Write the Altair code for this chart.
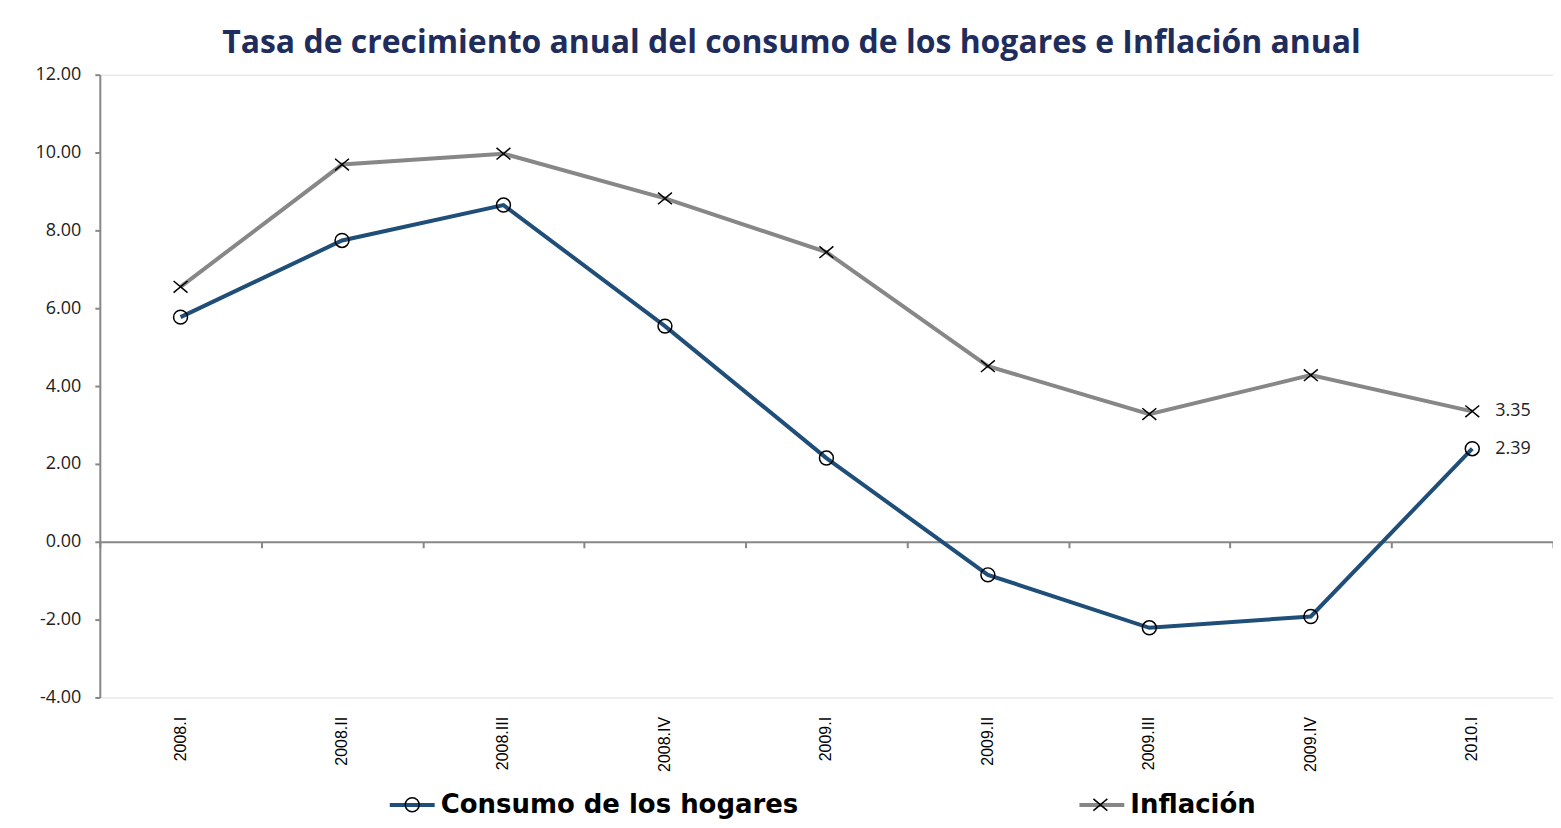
import altair as alt
import pandas as pd

# ---- data ----
periods = ["2008.I", "2008.II", "2008.III", "2008.IV", "2009.I",
           "2009.II", "2009.III", "2009.IV", "2010.I"]
consumo = [5.77, 7.74, 8.65, 5.54, 2.15, -0.85, -2.21, -1.92, 2.39]
inflacion = [6.55, 9.69, 9.97, 8.82, 7.44, 4.51, 3.28, 4.28, 3.35]
series_names = ["Consumo de los hogares", "Inflación"]
marker_names = ["circulo", "cruz"]
series_colors = ["#1F4E79", "#878787"]
y_ticks = [-4, -2, 0, 2, 4, 6, 8, 10, 12]

rows = []
for name, mk, vals in zip(series_names, marker_names, [consumo, inflacion]):
    for p, v in zip(periods, vals):
        rows.append({"period": p, "series": name, "marker": mk, "value": v})
df = pd.DataFrame(rows)

W, H = 1456, 624
y_min, y_max = y_ticks[0], y_ticks[-1]
zero_offset = -H * (0 - y_min) / (y_max - y_min)
axis_gray = "#878787"

# unit-space marker paths (scaled by sqrt(size)/2)
r = 0.31
circle_path = f"M{-r},0A{r},{r} 0 1,0 {r},0A{r},{r} 0 1,0 {-r},0Z"
cross_path = f"M{-r},{-0.26}L{r},{0.26}M{-r},{0.26}L{r},{-0.26}"
marker_paths = [circle_path, cross_path]
sym_size = 2025

y_enc = alt.Y(
    "value:Q",
    scale=alt.Scale(domain=[y_min, y_max], nice=False, zero=False),
    axis=alt.Axis(values=y_ticks, title=None, grid=False,
                  labelExpr="(datum.value < 0 ? '-' : '') + format(abs(datum.value), '.2f')",
                  labelFont="Open Sans", labelFontSize=18, labelColor="#222222",
                  labelPadding=14, tickSize=5, tickColor=axis_gray, tickWidth=2,
                  domainColor=axis_gray, domainWidth=2),
)

x_scale = alt.Scale(type="band", domain=periods, paddingInner=0, paddingOuter=0)

axis_zero = alt.Axis(orient="bottom", offset=zero_offset, labels=False, title=None,
                     grid=False, domain=True, domainColor=axis_gray, domainWidth=2,
                     ticks=True, tickBand="extent", tickSize=6, tickColor=axis_gray,
                     tickWidth=2)
axis_labels = alt.Axis(orient="bottom", domain=False, ticks=False, labelAngle=270,
                       labelAlign="right", labelBaseline="middle", labelPadding=19,
                       labelFont="Liberation Sans", labelFontSize=16,
                       labelColor="black", title=None, grid=False, labelOverlap=False)

legend_y = 707
lines = alt.Chart(df).mark_line(strokeWidth=4).encode(
    x=alt.X("period:N", scale=x_scale, axis=axis_zero),
    y=y_enc,
    color=alt.Color("series:N",
                    scale=alt.Scale(domain=series_names, range=series_colors),
                    legend=alt.Legend(orient="none", legendX=288.5, legendY=legend_y,
                                      direction="horizontal", title=None,
                                      symbolType="stroke", symbolSize=sym_size,
                                      symbolStrokeWidth=4, symbolOpacity=1,
                                      labelFont="DejaVu Sans", labelFontWeight="bold",
                                      labelFontSize=26, labelColor="black",
                                      labelOffset=4, columnPadding=273, padding=0,
                                      labelLimit=0)),
)

marker_legend_x = [288.5, 978.0]
marker_layers = []
for i, (mk, path) in enumerate(zip(marker_names, marker_paths)):
    marker_layers.append(
        alt.Chart(df).transform_filter(alt.datum.marker == mk).mark_point(
            filled=False, color="black", strokeWidth=1.5, size=sym_size, opacity=1
        ).encode(
            x=alt.X("period:N", scale=x_scale, axis=axis_labels if i == 0 else None),
            y=y_enc,
            shape=alt.Shape(
                "marker:N",
                scale=alt.Scale(domain=[mk], range=[path]),
                legend=alt.Legend(orient="none", legendX=marker_legend_x[i],
                                  legendY=legend_y + 1, title=None,
                                  symbolSize=sym_size, symbolStrokeWidth=1.5,
                                  symbolStrokeColor="black",
                                  symbolFillColor="transparent", symbolOpacity=1,
                                  symbolOffset=1, labelExpr="''", padding=0)),
        )
    )

end_labels = alt.Chart(df).transform_filter(
    alt.datum.period == periods[-1]
).mark_text(align="left", baseline="middle", dx=23, font="Open Sans",
            fontSize=18, color="#222222").encode(
    x=alt.X("period:N", scale=x_scale, axis=None),
    y=y_enc,
    text=alt.Text("value:Q", format=".2f"),
)

chart = alt.layer(lines, *marker_layers, end_labels).resolve_axis(
    x="independent"
).resolve_scale(
    shape="independent"
).properties(
    width=W, height=H,
    title=alt.TitleParams(
        text="Tasa de crecimiento anual del consumo de los hogares e Inflación anual",
        font="Open Sans", fontSize=32, fontWeight="bold", color="#1F2D5C",
        anchor="middle", dx=-35, offset=6),
    autosize=alt.AutoSizeParams(type="none"),
    padding={"left": 92, "top": 66, "right": 0, "bottom": 122},
).configure_view(stroke=None).configure(background="white")

chart.save("out.html", embed_options={"renderer": "svg", "actions": False})
